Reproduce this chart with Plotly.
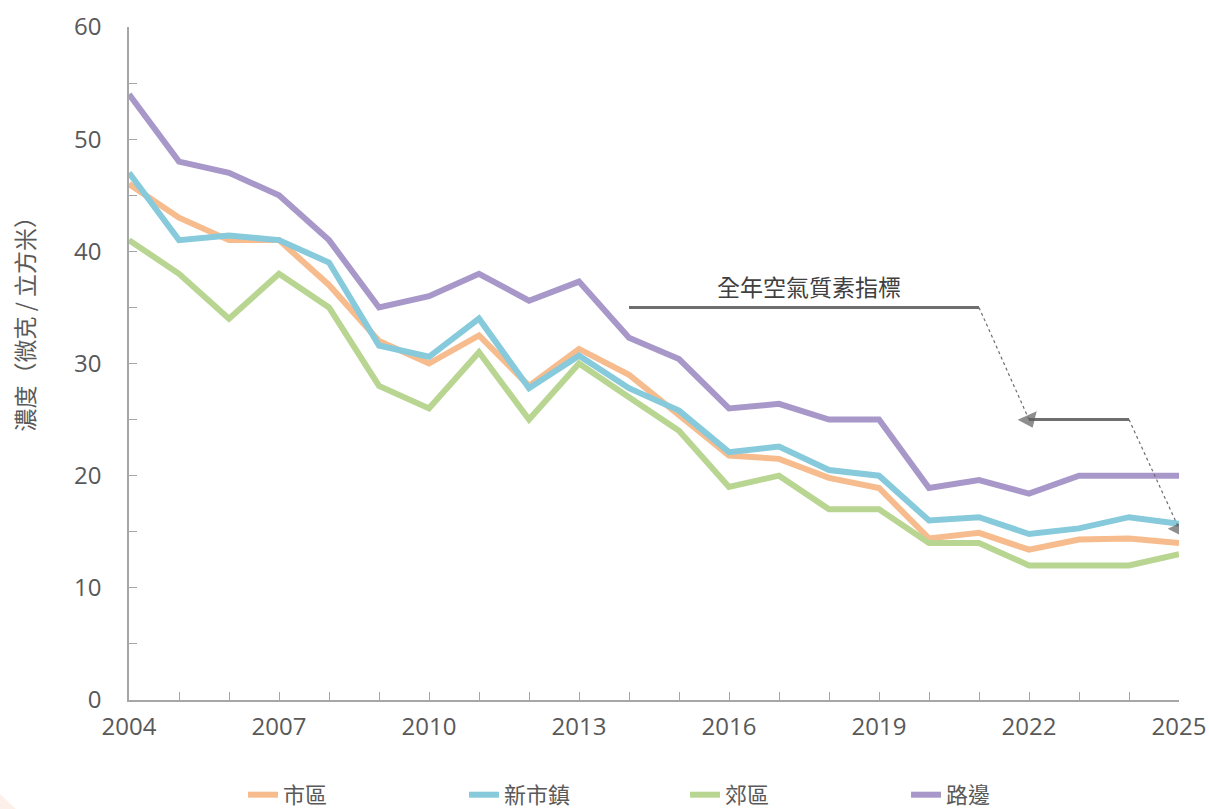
import plotly.graph_objects as go

years = list(range(2004, 2026))

urban = [46, 43, 41, 41, 37, 32, 30, 32.5, 28, 31.3, 29, 25.4, 21.8, 21.5, 19.8, 18.9,
         14.4, 14.9, 13.4, 14.3, 14.4, 14]
new_town = [47, 41, 41.4, 41, 39, 31.6, 30.6, 34, 27.8, 30.7, 27.8, 25.8, 22.1, 22.6, 20.5, 20,
            16, 16.3, 14.8, 15.3, 16.3, 15.7]
rural = [41, 38, 34, 38, 35, 28, 26, 31, 25, 30, 27, 24, 19, 20, 17, 17,
         14, 14, 12, 12, 12, 13]
roadside = [54, 48, 47, 45, 41, 35, 36, 38, 35.6, 37.3, 32.3, 30.4, 26, 26.4, 25, 25,
            18.9, 19.6, 18.4, 20, 20, 20]

series_names = ["市區", "新市鎮", "郊區", "路邊"]
series_colors = ["#F6BC8D", "#86CADB", "#B8D591", "#A898C9"]

# Annual AQO steps
aqo_years_1 = [2014, 2021]
aqo_vals_1 = [35, 35]
aqo_years_2 = [2022, 2024]
aqo_vals_2 = [25, 25]
arrow1_years = [2021, 2022]
arrow1_vals = [35, 25]
arrow2_years = [2024, 2025]
arrow2_vals = [25, 15.3]
aqo_label = "全年空氣質素指標"

y_title = "濃度（微克 / 立方米）"

tick_font = "Open Sans, Noto Sans CJK TC, sans-serif"
cjk_font = "Noto Sans CJK TC, sans-serif"
gray = "#595959"

fig = go.Figure()

for name, vals, col in zip(series_names, [urban, new_town, rural, roadside], series_colors):
    fig.add_trace(go.Scatter(x=years, y=vals, name=name, mode="lines",
                             line=dict(color=col, width=6)))

# AQO solid lines
for xs, ys in [(aqo_years_1, aqo_vals_1), (aqo_years_2, aqo_vals_2)]:
    fig.add_trace(go.Scatter(x=xs, y=ys, mode="lines", showlegend=False, hoverinfo="skip",
                             line=dict(color="#6E6E6E", width=3)))
# dashed arrows
for xs, ys in [(arrow1_years, arrow1_vals), (arrow2_years, arrow2_vals)]:
    fig.add_trace(go.Scatter(x=xs, y=ys, mode="lines+markers", showlegend=False, hoverinfo="skip",
                             line=dict(color="#6E6E6E", width=1.2, dash="dot"),
                             marker=dict(symbol="triangle-up", size=[0, 18], angleref="previous",
                                         color="#5E5E5E", line=dict(width=0))))

fig.add_annotation(x=2017.6, y=35, yanchor="bottom", yshift=2, text=aqo_label, showarrow=False,
                   font=dict(family=cjk_font, size=23, color="#404040"))

fig.add_annotation(xref="paper", yref="paper", x=-0.1, y=0.567, xanchor="center", yanchor="middle",
                   text=y_title, textangle=-90,
                   showarrow=False, font=dict(family=cjk_font, size=23, color=gray))

# decorative corners
fig.add_shape(type="path", xref="paper", yref="paper", layer="below",
              path="M 1.0267,-0.1634 Q 1.065,-0.1545 1.0762,-0.1218 L 1.0762,-0.1634 Z",
              fillcolor="#FDF0EA", line=dict(width=0))
fig.add_shape(type="path", xref="paper", yref="paper", layer="below",
              path="M -0.1229,-0.1397 L -0.1067,-0.1634 L -0.1229,-0.1634 Z",
              fillcolor="#FDF0EA", line=dict(width=0))

fig.update_xaxes(range=[2004, 2025], tickmode="linear", tick0=2004, dtick=3, automargin=False,
                 ticks="inside", ticklen=8, tickcolor="#A6A6A6", showline=True, linecolor="#A6A6A6",
                 linewidth=1.5, showgrid=False, zeroline=False, ticklabelstandoff=4,
                 minor=dict(dtick=1, tick0=2004, ticks="inside", ticklen=8, tickcolor="#A6A6A6", showgrid=False),
                 tickfont=dict(family=tick_font, size=24, color=gray))
fig.update_yaxes(range=[0, 60], tickmode="linear", tick0=0, dtick=10, automargin=False,
                 ticks="inside", ticklen=8, tickcolor="#A6A6A6", showline=True, linecolor="#A6A6A6",
                 linewidth=1.5, showgrid=False, zeroline=False,
                 minor=dict(dtick=5, tick0=0, ticks="inside", ticklen=8, tickcolor="#A6A6A6", showgrid=False),
                 ticklabelstandoff=21,
                 tickfont=dict(family=tick_font, size=24, color=gray))

fig.update_layout(
    width=1209, height=809,
    margin=dict(l=129, r=30, t=27, b=109, autoexpand=False),
    paper_bgcolor="white", plot_bgcolor="white",
    legend=dict(orientation="h", x=0.1086, xanchor="left", y=-0.141, yanchor="middle",
                entrywidth=176, entrywidthmode="pixels",
                font=dict(family=cjk_font, size=22, color=gray)),
)

fig.write_html("out.html", config={"displayModeBar": False},
               post_script="document.body.style.margin='0';document.body.style.overflow='hidden';")
